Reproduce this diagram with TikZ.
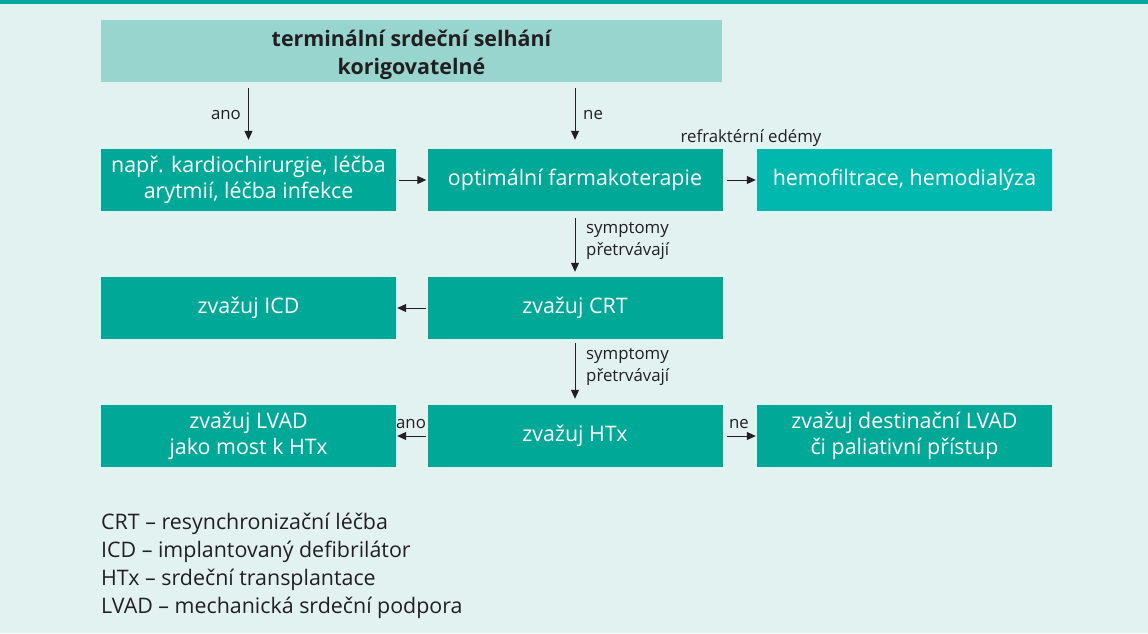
\documentclass[tikz,border=0pt]{standalone}
\usepackage{fontspec}
\setmainfont{Open Sans}
\usetikzlibrary{arrows.meta,calc}
\definecolor{bg}{HTML}{E2F2F0}
\definecolor{bar}{HTML}{00A99D}
\definecolor{boxdark}{HTML}{00A898}
\definecolor{boxbright}{HTML}{00B8AD}
\definecolor{boxlight}{HTML}{98D5CF}
\definecolor{ink}{HTML}{231F20}
\tikzset{
  x=1pt,y=-1pt,
  flowbox/.style={rectangle,fill=boxdark,text=white,minimum width=295pt,minimum height=62pt,inner sep=2pt,align=center,font=\fontsize{21.4}{26.5}\selectfont},
  arr/.style={draw=ink,line width=1pt,-{Triangle[length=9pt,width=8pt]}},
  lbl/.style={text=ink,font=\fontsize{16.8}{22}\selectfont,inner sep=0pt},
}
\begin{document}
\begin{tikzpicture}
\fill[bg] (0,0) rectangle (1148,633);
\fill[bar] (0,0) rectangle (1148,4);
\useasboundingbox (0,0) rectangle (1148,633);

\node[flowbox,fill=boxlight,text=ink,minimum width=621pt,font=\bfseries\fontsize{21.4}{28.5}\selectfont] (top) at (411.5,51) {\rule{0pt}{24pt}terminální srdeční selhání\\korigovatelné};

\node[flowbox] (b1) at (248.5,180) {např. kardiochirurgie, léčba\\arytmií, léčba infekce};
\node[flowbox] (b2) at (575,180) {optimální farmakoterapie};
\node[flowbox,fill=boxbright] (b3) at (904.5,180) {hemofiltrace, hemodialýza};

\node[flowbox] (icd) at (248.5,308) {zvažuj ICD};
\node[flowbox] (crt) at (575,308) {zvažuj CRT};

\node[flowbox] (lvad) at (248.5,436) {zvažuj LVAD\\jako most k HTx};
\node[flowbox] (htx) at (575,436) {zvažuj HTx};
\node[flowbox] (dest) at (904.5,436) {zvažuj destinační LVAD\\či paliativní přístup};

\draw[arr,shorten <=6pt,shorten >=9pt] (top.south -| b1) -- (b1.north);
\draw[arr,shorten <=6pt,shorten >=9pt] (top.south -| b2) -- (b2.north);
\node[lbl,anchor=east] at (241,115) {ano};
\node[lbl,anchor=west] at (583,115) {ne};

\draw[arr,shorten <=3pt,shorten >=1pt] (b1.east) -- (b2.west);
\draw[arr,shorten <=4pt,shorten >=1pt] (b2.east) -- (b3.west);
\node[lbl,anchor=base] at (751,142) {refraktérní edémy};

\draw[arr,shorten <=7pt,shorten >=5pt] (b2.south) -- (crt.north);
\node[lbl,anchor=west,align=left] at (586,241) {symptomy\\přetrvávají};

\draw[arr,shorten <=1pt,shorten >=1pt] (crt.west) -- (icd.east);

\draw[arr,shorten <=4pt,shorten >=6pt] (crt.south) -- (htx.north);
\node[lbl,anchor=west,align=left] at (586,367) {symptomy\\přetrvávají};

\draw[arr,shorten <=1pt,shorten >=1pt] (htx.west) -- (lvad.east);
\node[lbl,anchor=base] at (411,428) {ano};
\draw[arr,shorten <=4pt,shorten >=1pt] (htx.east) -- (dest.west);
\node[lbl,anchor=base] at (739,428) {ne};

\node[text=ink,anchor=north west,align=left,inner sep=0pt,font=\fontsize{21.4}{28}\selectfont] (legend) at (101,513) {CRT – resynchronizační léčba\\ICD – implantovaný defibrilátor\\HTx – srdeční transplantace\\LVAD – mechanická srdeční podpora};
\end{tikzpicture}
\end{document}
